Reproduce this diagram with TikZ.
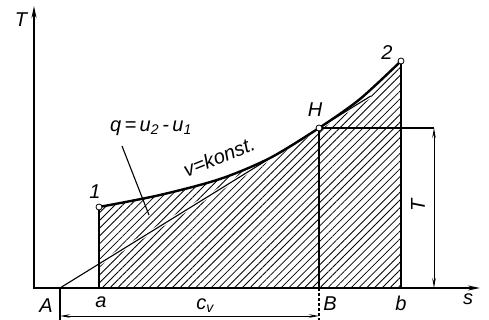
\documentclass[tikz,border=0pt]{standalone}
\usepackage{fontspec}
\setmainfont{Liberation Sans}
\usetikzlibrary{arrows.meta,patterns.meta,calc}
\begin{document}
\begin{tikzpicture}[x=1pt,y=-1pt,
  lbl/.style={font=\fontsize{20}{20}\selectfont\itshape, inner sep=0pt},
  pt/.style={circle,draw,fill=white,inner sep=0pt,minimum size=6pt,line width=0.8pt},
  thinline/.style={line width=1.1pt},
  axis/.style={line width=1.8pt},
  dimarrow/.style={line width=0.9pt,{Stealth[length=10pt,width=3.5pt]}-{Stealth[length=10pt,width=3.5pt]}},
  hatch/.style={pattern={Lines[angle=45,distance=5.5pt,line width=0.8pt]}}
]
\useasboundingbox (0,0) rectangle (489,320);
% key points
\coordinate (O) at (34,288);
\coordinate (Ytop) at (34,6);
\coordinate (Xend) at (480,288);
\coordinate (A) at (60,288);
\coordinate (a) at (99,288);
\coordinate (B) at (319,288);
\coordinate (b) at (401,288);
\coordinate (P1) at (99,207);
\coordinate (H) at (319,128);
\coordinate (P2) at (401,61);
\coordinate (Tt) at (434,128);
\coordinate (Tb) at (434,288);
\coordinate (Ad) at (60,320);
\coordinate (Bd) at (319,320);
\coordinate (A2) at (60,316);
\coordinate (B2) at (319,316);
\coordinate (L1) at (122,146);
\coordinate (L2) at (149,215);
% hatched area
\fill[hatch] (a) -- (P1) -- plot[smooth] coordinates {(99,207) (160,195) (220,179) (270,158) (319,128) (360,99) (401,61)} -- (b) -- cycle;
% tangent through A and H
\draw[white,line width=3.5pt] ($(A)!0.13!(H)$) -- ($(A)!1.2!(H)$);
\draw[thinline] (A) -- ($(A)!1.2!(H)$) coordinate (Tend);
% verticals and horizontal
\draw[thinline] (a) -- (P1);
\draw[thinline] (B) -- (H);
\draw[thinline] (b) -- (P2);
\draw[thinline] (H) -- (Tt);
\draw[dimarrow] (Tb) -- (Tt);
% lower dimension
\draw[thinline] (A) -- (Ad);
\draw[thinline,dash pattern=on 3pt off 2pt] (B) -- (Bd);
\draw[dimarrow] (A2) -- (B2);
% curve
\draw[line width=2.4pt] plot[smooth] coordinates {(99,207) (160,195) (220,179) (270,158) (319,128) (360,99) (401,61)};
% leader
\draw[thinline] (L1) -- (L2);
% axes
\draw[axis,{Stealth[length=12pt,width=5pt]}-{Stealth[length=12pt,width=5pt]}] (Ytop) -- (O) -- (Xend);
% point markers
\node[pt] (n1) at (P1) {};
\node[pt] (nH) at (H) {};
\node[pt] (n2) at (P2) {};
% labels
\node[lbl] (lT) at (21,20) {T};
\node[lbl] (ls) at (468,299) {s};
\node[lbl] (lA) at (46,306) {A};
\node[lbl] (la) at (101,302) {a};
\node[lbl] (lB) at (330,304) {B};
\node[lbl] (lb) at (401,303) {b};
\node[lbl] (lcv) at (205,306) {c\textsubscript{v}};
\node[lbl] (l1) at (95,192) {1};
\node[lbl] (lH) at (315,110) {H};
\node[lbl] (l2) at (387,53) {2};
\node[lbl] (lq) at (151,128) {q\,=\,u\textsubscript{2}\,-\,u\textsubscript{1}};
\node[lbl,rotate=22] (lv) at (219,157) {v=konst.};
\node[lbl,rotate=90] (lTd) at (418,205) {T};
\end{tikzpicture}
\end{document}
